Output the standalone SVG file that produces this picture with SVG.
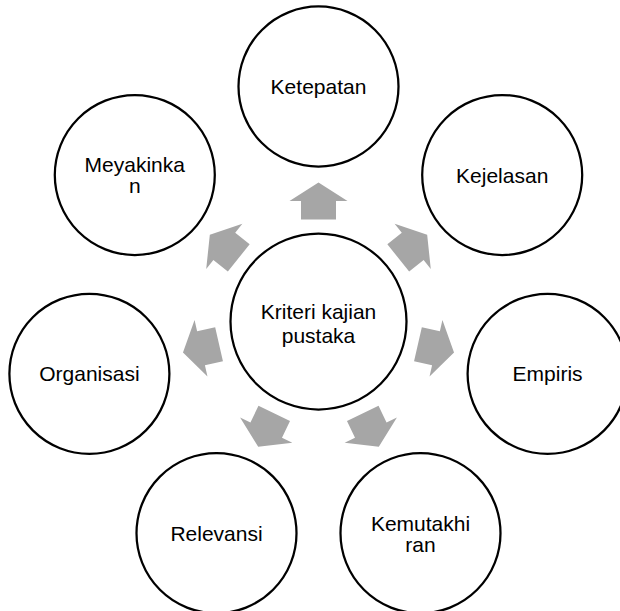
<svg xmlns="http://www.w3.org/2000/svg" width="620" height="611" viewBox="0 0 620 611">
  <style>
    .node { fill: #ffffff; stroke: #000000; stroke-width: 2.25; }
    .label { font-family: "Liberation Sans", Arial, sans-serif; font-size: 21px; fill: #000000; text-anchor: middle; }
    .arrow { fill: #a6a6a6; stroke: none; }
  </style>
  <defs>
    <!-- block arrow pointing along +x, placed at radius 102..139 from the hub -->
    <polygon id="blockArrow" class="arrow" points="102,-17.5 120.5,-17.5 120.5,-29 139,0 120.5,29 120.5,17.5 102,17.5"/>
  </defs>

  <rect width="620" height="611" fill="#ffffff"/>

  <!-- connectors: block arrows radiating from the hub -->
  <g id="connectors">
    <use href="#blockArrow" transform="translate(318.5 321.5) rotate(-90)"/>
    <use href="#blockArrow" transform="translate(318.5 321.5) rotate(-38.571)"/>
    <use href="#blockArrow" transform="translate(318.5 321.5) rotate(12.857)"/>
    <use href="#blockArrow" transform="translate(318.5 321.5) rotate(64.286)"/>
    <use href="#blockArrow" transform="translate(318.5 321.5) rotate(115.714)"/>
    <use href="#blockArrow" transform="translate(318.5 321.5) rotate(167.143)"/>
    <use href="#blockArrow" transform="translate(318.5 321.5) rotate(218.571)"/>
  </g>

  <g id="hub">
    <circle class="node" cx="318.5" cy="321.5" r="88"/>
    <text class="label" x="318.5" y="319.3">Kriteri kajian</text>
    <text class="label" x="318.5" y="343.3">pustaka</text>
  </g>

  <g id="ketepatan">
    <circle class="node" cx="318.5" cy="86.5" r="80"/>
    <text class="label" x="318.5" y="94">Ketepatan</text>
  </g>

  <g id="kejelasan">
    <circle class="node" cx="502.2" cy="175" r="80"/>
    <text class="label" x="502.2" y="182.5">Kejelasan</text>
  </g>

  <g id="empiris">
    <circle class="node" cx="547.6" cy="373.8" r="80"/>
    <text class="label" x="547.6" y="381.3">Empiris</text>
  </g>

  <g id="kemutakhiran">
    <circle class="node" cx="420.5" cy="533.2" r="80"/>
    <text class="label" x="420.5" y="530.5">Kemutakhi</text>
    <text class="label" x="420.5" y="551.5">ran</text>
  </g>

  <g id="relevansi">
    <circle class="node" cx="216.5" cy="533.2" r="80"/>
    <text class="label" x="216.5" y="540.7">Relevansi</text>
  </g>

  <g id="organisasi">
    <circle class="node" cx="89.4" cy="373.8" r="80"/>
    <text class="label" x="89.4" y="381.3">Organisasi</text>
  </g>

  <g id="meyakinkan">
    <circle class="node" cx="134.8" cy="175" r="80"/>
    <text class="label" x="134.8" y="171.5">Meyakinka</text>
    <text class="label" x="134.8" y="192.5">n</text>
  </g>
</svg>
